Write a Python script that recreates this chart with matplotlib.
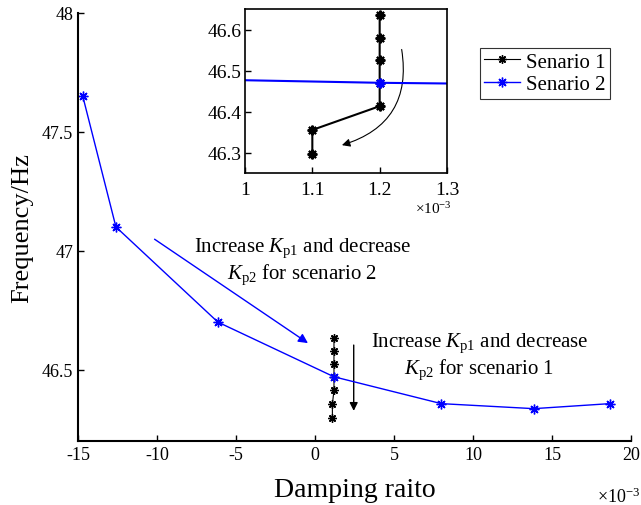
import matplotlib
matplotlib.use("Agg")
import matplotlib.pyplot as plt
from matplotlib.patches import FancyArrowPatch
from matplotlib.ticker import FormatStrFormatter

plt.rcParams['font.family'] = ['Liberation Serif', 'DejaVu Serif']
plt.rcParams['mathtext.fontset'] = 'custom'
plt.rcParams['mathtext.rm'] = 'Liberation Serif'
plt.rcParams['mathtext.it'] = 'Liberation Serif:italic'
plt.rcParams['axes.unicode_minus'] = False

# damping ratio in units of 1e-3, frequency in Hz
s1_damping = [1.2, 1.2, 1.2, 1.2, 1.2, 1.1, 1.1]
s1_freq = [46.635, 46.58, 46.525, 46.47, 46.413, 46.355, 46.297]
s2_damping = [-14.7, -12.6, -6.15, 1.2, 8.0, 13.85, 18.65]
s2_freq = [47.65, 47.10, 46.70, 46.47, 46.357, 46.336, 46.357]

star = (8, 2, 0)

fig = plt.figure(figsize=(6.41, 5.06), dpi=100)
ax = fig.add_axes([0.1217, 0.1265, 0.8627, 0.846])

ax.plot(s1_damping, s1_freq, color='black', lw=0.8, marker=star, ms=6, mew=1.0,
        label='Senario 1')
ax.plot(s2_damping, s2_freq, color='blue', lw=1.0, marker=star, ms=7, mew=1.0,
        label='Senario 2')

ax.set_xlim(-15, 20)
ax.set_ylim(46.2, 48)
ax.set_xticks([-15, -10, -5, 0, 5, 10, 15, 20])
ax.set_yticks([46.5, 47, 47.5, 48])
ax.yaxis.set_major_formatter(FormatStrFormatter('%g'))
ax.spines['top'].set_visible(False)
ax.spines['right'].set_visible(False)
for sp in ('left', 'bottom'):
    ax.spines[sp].set_linewidth(1.5)
ax.tick_params(direction='in', labelsize=13, length=4, width=1.0, pad=3.5)
ax.set_xlabel('Damping raito', fontsize=20, labelpad=10)
ax.set_ylabel('Frequency/Hz', fontsize=19, labelpad=6)

# annotations
ax.add_patch(FancyArrowPatch((-10.3, 47.055), (-0.3, 46.605), arrowstyle='-|>',
                             mutation_scale=14, color='blue', lw=1.0))
ax.text(-0.8, 46.958, 'Increase $K_{\\mathrm{p1}}$ and decrease\n$K_{\\mathrm{p2}}$ for scenario 2',
        ha='center', va='center', fontsize=15, linespacing=1.15)
ax.add_patch(FancyArrowPatch((2.45, 46.615), (2.45, 46.315), arrowstyle='-|>',
                             mutation_scale=12, color='black', lw=1.0))
ax.text(10.4, 46.56, 'Increase $K_{\\mathrm{p1}}$ and decrease\n$K_{\\mathrm{p2}}$ for scenario 1',
        ha='center', va='center', fontsize=15, linespacing=1.15)

leg = ax.legend(loc='upper left', bbox_to_anchor=(480 / 641, 1 - 49 / 506),
                bbox_transform=fig.transFigure, borderaxespad=0, fontsize=15,
                frameon=True, fancybox=False, handlelength=1.7, handletextpad=0.3,
                borderpad=0.2, labelspacing=0.15)
leg.get_frame().set_edgecolor('black')
leg.get_frame().set_linewidth(0.8)

fig.text(619 / 641, 1 - 497 / 506, '$\\times10^{-3}$', ha='center', va='center', fontsize=13)

# inset zoom
ins = fig.add_axes([245 / 641, 1 - 174 / 506, 202 / 641, 164 / 506])
ins.plot(s1_damping, s1_freq, color='black', lw=1.5, marker=star, ms=7, mew=1.5)
ins.plot(s2_damping, s2_freq, color='blue', lw=1.5, marker=star, ms=7, mew=1.5)
ins.set_xlim(1, 1.3)
ins.set_ylim(46.25, 46.65)
ins.set_xticks([1, 1.1, 1.2, 1.3])
ins.set_yticks([46.3, 46.4, 46.5, 46.6])
ins.xaxis.set_major_formatter(FormatStrFormatter('%g'))
ins.yaxis.set_major_formatter(FormatStrFormatter('%g'))
ins.tick_params(direction='in', labelsize=14, length=4, width=1.0)
ins.tick_params(axis='x', pad=6)
ins.tick_params(axis='y', pad=2.5)
for sp in ins.spines.values():
    sp.set_linewidth(1.2)
ins.add_patch(FancyArrowPatch((1.232, 46.558), (1.14, 46.316), arrowstyle='-|>',
                              connectionstyle='arc3,rad=-0.45', mutation_scale=12,
                              color='black', lw=0.8))
fig.text(433 / 641, 1 - 209 / 506, '$\\times10^{-3}$', ha='center', va='center', fontsize=11)

fig.savefig('out.png', dpi=100)
